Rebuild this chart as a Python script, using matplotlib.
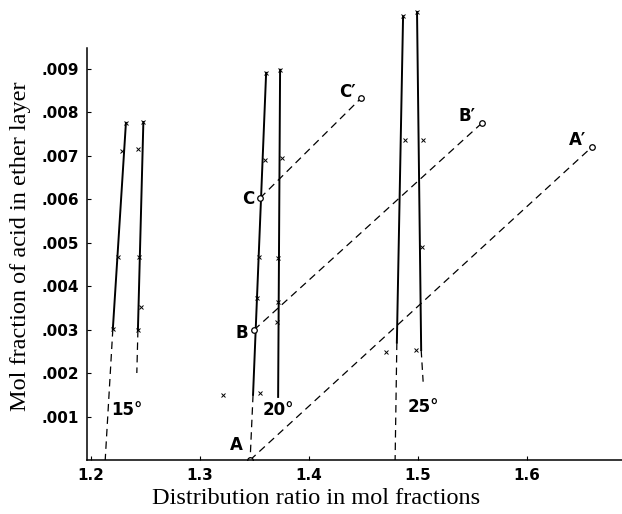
import matplotlib.pyplot as plt

# isotherm lines: solid part (top, bottom) and dashed extension (end point)
iso_15a_x = [1.232, 1.220]
iso_15a_y = [0.00775, 0.00301]
iso_15a_dash = (1.213, 0.0)
iso_15b_x = [1.248, 1.243]
iso_15b_y = [0.00777, 0.00299]
iso_15b_dash = (1.242, 0.0020)

iso_20a_x = [1.3606, 1.3486]
iso_20a_y = [0.0089, 0.00150]
iso_20a_dash = (1.3459, 0.0)
iso_20b_x = [1.3734, 1.3716]
iso_20b_y = [0.00897, 0.00145]

iso_25a_x = [1.4862, 1.4805]
iso_25a_y = [0.0102, 0.0027]
iso_25a_dash = (1.4789, 0.0)
iso_25b_x = [1.499, 1.5028]
iso_25b_y = [0.0103, 0.00253]
iso_25b_dash = (1.5046, 0.0018)

# measured points (x markers)
pts_x = [1.232, 1.228, 1.225, 1.220, 1.248, 1.243, 1.244, 1.246, 1.243,
         1.3606, 1.3596, 1.354, 1.352, 1.3734, 1.3752, 1.3716, 1.3716, 1.3706,
         1.321, 1.355,
         1.4862, 1.488, 1.499, 1.5046, 1.5037, 1.4706, 1.498]
pts_y = [0.00775, 0.0071, 0.00467, 0.00301, 0.00777, 0.00715, 0.00467, 0.00352, 0.00299,
         0.0089, 0.0069, 0.00467, 0.00372, 0.00897, 0.00694, 0.00464, 0.00363, 0.00317,
         0.00149, 0.00154,
         0.0102, 0.00736, 0.0103, 0.00736, 0.0049, 0.00248, 0.00253]

# tie lines A-A', B-B', C-C'
tie_names = ['A', 'B', 'C']
tie_start_x = [1.3459, 1.3495, 1.355]
tie_start_y = [0.0, 0.00299, 0.00602]
tie_end_x = [1.6596, 1.5587, 1.4477]
tie_end_y = [0.0072, 0.00775, 0.00832]

xticks = [1.2, 1.3, 1.4, 1.5, 1.6]
yticks = [0.001, 0.002, 0.003, 0.004, 0.005, 0.006, 0.007, 0.008, 0.009]
ytick_labels = ['.001', '.002', '.003', '.004', '.005', '.006', '.007', '.008', '.009']

W, H = 622, 514
fig = plt.figure(figsize=(W / 100, H / 100), dpi=100)
ax = fig.add_axes([87 / W, 54 / H, 535 / W, 455 / H])
ax.set_xlim(1.1963, 1.687)
ax.set_ylim(0, 0.01046)

solid = dict(color='black', lw=1.4)
dashed = dict(color='black', lw=0.9, dashes=(6, 4))

for xs, ys, d in [(iso_15a_x, iso_15a_y, iso_15a_dash), (iso_15b_x, iso_15b_y, iso_15b_dash),
                  (iso_20a_x, iso_20a_y, iso_20a_dash), (iso_20b_x, iso_20b_y, None),
                  (iso_25a_x, iso_25a_y, iso_25a_dash), (iso_25b_x, iso_25b_y, iso_25b_dash)]:
    ax.plot(xs, ys, **solid)
    if d is not None:
        ax.plot([xs[-1], d[0]], [ys[-1], d[1]], **dashed)

ax.plot(pts_x, pts_y, ls='none', marker='x', ms=3.2, mew=0.7, color='black')

for i in range(3):
    ax.plot([tie_start_x[i], tie_end_x[i]], [tie_start_y[i], tie_end_y[i]], **dashed)
    ax.plot([tie_start_x[i], tie_end_x[i]], [tie_start_y[i], tie_end_y[i]], ls='none',
            marker='o', ms=4, mfc='white', mec='black', mew=0.9)

lab = dict(fontsize=12, fontweight='bold', color='black', family='DejaVu Sans')
ax.text(1.3395, 0.00035, 'A', ha='right', va='center', **lab)
ax.text(1.3445, 0.00292, 'B', ha='right', va='center', **lab)
ax.text(1.350, 0.00600, 'C', ha='right', va='center', **lab)
ax.text(1.654, 0.00735, 'A\u2032', ha='right', va='center', **lab)
ax.text(1.553, 0.0079, 'B\u2032', ha='right', va='center', **lab)
ax.text(1.443, 0.00845, 'C\u2032', ha='right', va='center', **lab)
ax.text(1.233, 0.00115, '15\u00b0', ha='center', va='center', **lab)
ax.text(1.372, 0.00115, '20\u00b0', ha='center', va='center', **lab)
ax.text(1.505, 0.00122, '25\u00b0', ha='center', va='center', **lab)

ax.set_xticks(xticks)
ax.set_xticklabels([str(v) for v in xticks], fontsize=11, fontweight='bold')
ax.set_yticks(yticks)
ax.set_yticklabels(ytick_labels, fontsize=11, fontweight='bold')
ax.tick_params(direction='in', length=3, width=0.8, pad=6)

ax.spines['top'].set_visible(False)
ax.spines['right'].set_visible(False)
ax.spines['left'].set_bounds(0, 0.00947)
for s in ['left', 'bottom']:
    ax.spines[s].set_linewidth(1.1)

fig.text(316 / W, 1 - 499 / H, 'Distribution ratio in mol fractions', ha='center', va='center',
         fontsize=17.5, family='Liberation Serif')
fig.text(21 / W, 1 - 246 / H, 'Mol fraction of acid in ether layer', ha='center', va='center',
         rotation=90, fontsize=17.5, family='Liberation Serif')

fig.savefig('out.png', dpi=100)
